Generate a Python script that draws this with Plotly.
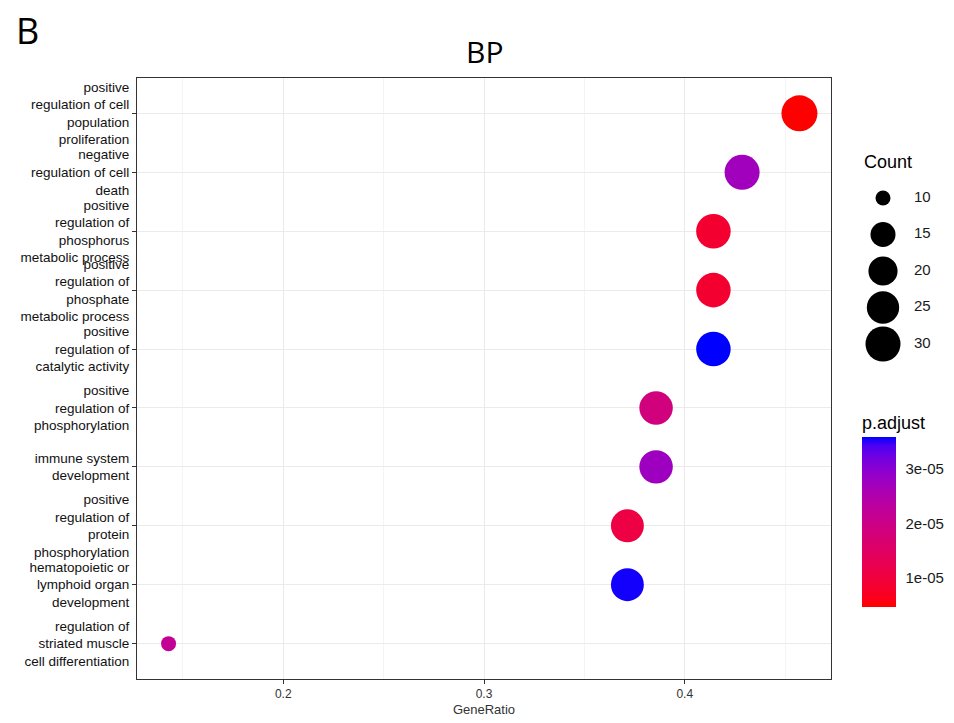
import math
import plotly.graph_objects as go

# GO biological-process enrichment results (top to bottom as drawn)
terms = [
    "positive<br>regulation of cell<br>population<br>proliferation",
    "negative<br>regulation of cell<br>death",
    "positive<br>regulation of<br>phosphorus<br>metabolic process",
    "positive<br>regulation of<br>phosphate<br>metabolic process",
    "positive<br>regulation of<br>catalytic activity",
    "positive<br>regulation of<br>phosphorylation",
    "immune system<br>development",
    "positive<br>regulation of<br>protein<br>phosphorylation",
    "hematopoietic or<br>lymphoid organ<br>development",
    "regulation of<br>striated muscle<br>cell differentiation",
]
gene_ratio = ["32/70", "30/70", "29/70", "29/70", "29/70",
              "27/70", "27/70", "26/70", "26/70", "10/70"]
p_adjust = [4.6e-6, 2.71e-5, 8.5e-6, 8.5e-6, 3.59e-5,
            1.87e-5, 2.75e-5, 1.09e-5, 3.55e-5, 2.18e-5]

x_ticks = [0.2, 0.3, 0.4]
x_minor = [0.15, 0.25, 0.35, 0.45]
count_breaks = [10, 15, 20, 25, 30]
p_ticks = [1e-5, 2e-5, 3e-5]
p_tick_text = ["1e-05", "2e-05", "3e-05"]

ratio = [int(g.split("/")[0]) / int(g.split("/")[1]) for g in gene_ratio]
count = [int(g.split("/")[0]) for g in gene_ratio]

# ---- size scale (area palette, like ggplot2 scale_size) ----
D_MIN, D_MAX = 15, 36
c_lo, c_hi = min(count), max(count)


def diam(c):
    t = (c - c_lo) / (c_hi - c_lo)
    return D_MIN + (D_MAX - D_MIN) * math.sqrt(max(t, 0.0))


# ---- red -> blue gradient interpolated in CIE Lab ----
def _lin(v):
    v /= 255.0
    return v / 12.92 if v <= 0.04045 else ((v + 0.055) / 1.055) ** 2.4


def _gam(v):
    v = 12.92 * v if v <= 0.0031308 else 1.055 * v ** (1 / 2.4) - 0.055
    return max(0, min(255, round(v * 255)))


WHITE = (0.95047, 1.0, 1.08883)


def rgb_to_lab(rgb):
    r, g, b = (_lin(c) for c in rgb)
    x = 0.4124 * r + 0.3576 * g + 0.1805 * b
    y = 0.2126 * r + 0.7152 * g + 0.0722 * b
    z = 0.0193 * r + 0.1192 * g + 0.9505 * b
    f = [(v / w) ** (1 / 3) if v / w > 0.008856 else 7.787 * v / w + 16 / 116
         for v, w in zip((x, y, z), WHITE)]
    return (116 * f[1] - 16, 500 * (f[0] - f[1]), 200 * (f[1] - f[2]))


def lab_to_rgb(lab):
    L, a, b = lab
    fy = (L + 16) / 116
    fx = fy + a / 500
    fz = fy - b / 200
    xyz = []
    for f, w in zip((fx, fy, fz), WHITE):
        v = f ** 3 if f ** 3 > 0.008856 else (f - 16 / 116) / 7.787
        xyz.append(v * w)
    x, y, z = xyz
    r = 3.2406 * x - 1.5372 * y - 0.4986 * z
    g = -0.9689 * x + 1.8758 * y + 0.0415 * z
    bb = 0.0557 * x - 0.2040 * y + 1.0570 * z
    return "rgb({},{},{})".format(*(_gam(max(0.0, v)) for v in (r, g, bb)))


low_lab = rgb_to_lab((255, 0, 0))
high_lab = rgb_to_lab((0, 0, 255))
N_STOPS = 21
colorscale = []
for i in range(N_STOPS):
    t = i / (N_STOPS - 1)
    lab = tuple(l + (h - l) * t for l, h in zip(low_lab, high_lab))
    colorscale.append([t, lab_to_rgb(lab)])

# ---- geometry ----
W, H = 954, 723
ML, MT, MB = 137, 78, 44
PLOT_W = 694
paper_w = W - ML
main_dom = PLOT_W / paper_w
paper_h = H - MT - MB

x_span = max(ratio) - min(ratio)
x_range = [min(ratio) - 0.05 * x_span, max(ratio) + 0.05 * x_span]

FONT = "Liberation Sans, Arial, sans-serif"

fig = go.Figure()

fig.add_trace(go.Scatter(
    x=ratio, y=terms, mode="markers",
    marker=dict(
        size=[diam(c) for c in count],
        color=p_adjust, colorscale=colorscale,
        cmin=min(p_adjust), cmax=max(p_adjust),
        line=dict(width=0), opacity=1,
        colorbar=dict(
            title=dict(text="p.adjust", side="top",
                       font=dict(size=18, family=FONT, color="black")),
            x=(862 - ML) / paper_w, xanchor="left",
            y=(H - MB - 607) / paper_h, yanchor="bottom",
            len=195, lenmode="pixels",
            thickness=34, thicknessmode="pixels",
            xpad=0, ypad=0, outlinewidth=0,
            tickmode="array", tickvals=p_ticks, ticktext=p_tick_text,
            ticks="outside", ticklen=7, tickcolor="white", tickwidth=1,
            tickfont=dict(size=15, family=FONT, color="#1A1A1A"),
        ),
    ),
    showlegend=False, hoverinfo="x+y",
))

# size legend ("Count") drawn on its own hidden axes
legend_idx = list(range(len(count_breaks)))
fig.add_trace(go.Scatter(
    x=[0] * len(count_breaks), y=legend_idx, mode="markers",
    marker=dict(size=[diam(c) for c in count_breaks], color="#000000",
                opacity=1, line=dict(width=0)),
    xaxis="x2", yaxis="y2", showlegend=False, hoverinfo="skip",
))
fig.add_trace(go.Scatter(
    x=[1] * len(count_breaks), y=legend_idx, mode="text",
    text=[str(c) for c in count_breaks], textposition="middle right",
    textfont=dict(size=15, family=FONT, color="#1A1A1A"),
    xaxis="x2", yaxis="y2", showlegend=False, hoverinfo="skip",
))

GRID = "#EBEBEB"
fig.update_layout(
    width=W, height=H,
    margin=dict(l=ML, r=0, t=MT, b=MB, pad=0),
    paper_bgcolor="white", plot_bgcolor="white",
    font=dict(family=FONT, color="black"),
    xaxis=dict(
        domain=[0, main_dom], range=x_range,
        tickmode="array", tickvals=x_ticks,
        ticktext=[f"{v:.1f}" for v in x_ticks],
        showgrid=True, gridcolor=GRID, gridwidth=1.1,
        minor=dict(tickmode="array", tickvals=x_minor, showgrid=True,
                   gridcolor="#F4F4F4", gridwidth=0.6),
        showline=True, linecolor="#333333", linewidth=1.1, mirror=True,
        ticks="outside", ticklen=4, tickcolor="#333333", tickwidth=1,
        tickfont=dict(size=12, family=FONT, color="#333333"),
        title=dict(text="GeneRatio", standoff=4,
                   font=dict(size=13, family=FONT, color="#333333")),
        zeroline=False, anchor="y",
    ),
    yaxis=dict(
        domain=[0, 1], type="category",
        categoryorder="array", categoryarray=terms,
        range=[len(terms) - 0.4, -0.6],
        showgrid=True, gridcolor=GRID, gridwidth=1.1,
        showline=True, linecolor="#333333", linewidth=1.1, mirror=True,
        ticks="outside", ticklen=4, tickcolor="#333333", tickwidth=1,
        tickfont=dict(size=13.5, family=FONT, color="#111111"),
        zeroline=False, anchor="x",
    ),
    xaxis2=dict(
        domain=[(862 - ML) / paper_w, 1],
        range=[-21 / 31, (W - 862 - 21) / 31],
        visible=False, anchor="y2", fixedrange=True,
    ),
    yaxis2=dict(
        domain=[0, 1],
        range=[(H - MB - 198) / 36.5, -(198 - MT) / 36.5],
        visible=False, anchor="x2", fixedrange=True,
    ),
    annotations=[
        dict(text="BP", xref="paper", yref="paper",
             x=main_dom / 2, y=(H - MB - 51) / paper_h,
             xanchor="center", yanchor="middle", showarrow=False,
             font=dict(size=30, family="Open Sans, sans-serif", color="black")),
        dict(text="B", xref="paper", yref="paper",
             x=(14 - ML) / paper_w, y=(H - MB - 30) / paper_h,
             xanchor="left", yanchor="middle", showarrow=False,
             font=dict(size=36, family="Open Sans, sans-serif", color="black")),
        dict(text="Count", xref="paper", yref="paper",
             x=(862 - ML) / paper_w, y=(H - MB - 162) / paper_h,
             xanchor="left", yanchor="middle", showarrow=False,
             font=dict(size=18, family=FONT, color="black")),
    ],
)

fig.write_html("out.html")
